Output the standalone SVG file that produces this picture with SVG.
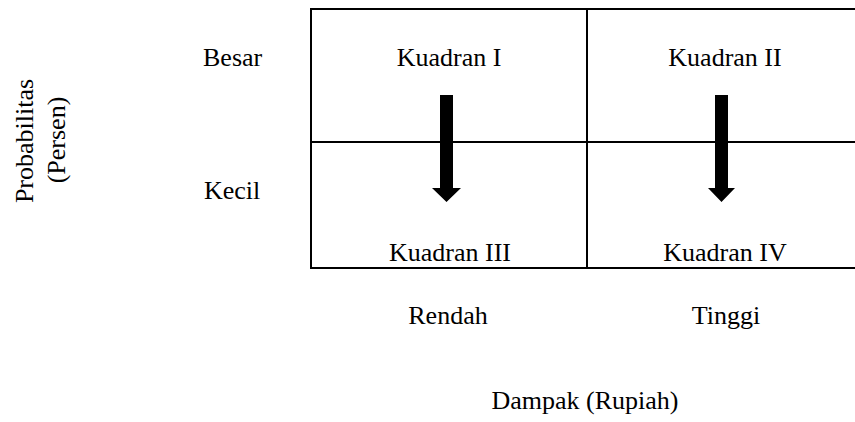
<svg xmlns="http://www.w3.org/2000/svg" width="855" height="422" viewBox="0 0 855 422">
<style>
text{font-family:"Liberation Serif","Times New Roman",serif;font-size:26px;fill:#000}
.c{text-anchor:middle}
.grid{fill:none;stroke:#000;stroke-width:2}
.arrow{fill:#000}
</style>
<rect width="855" height="422" fill="#fff"/>
<g id="grid">
<rect class="grid" x="311" y="9" width="545" height="259"/>
<line class="grid" x1="587" y1="9" x2="587" y2="268"/>
<line class="grid" x1="311" y1="142" x2="856" y2="142"/>
</g>
<g id="q1"><text class="c" x="449" y="66">Kuadran I</text></g>
<g id="q2"><text class="c" x="725" y="66">Kuadran II</text></g>
<g id="q3"><text class="c" x="450" y="261">Kuadran III</text></g>
<g id="q4"><text class="c" x="725" y="261">Kuadran IV</text></g>
<g id="connectors">
<polygon class="arrow" points="440,95 453,95 453,188 461,188 446.5,202 432,188 440,188"/>
<polygon class="arrow" points="715,95 728,95 728,188 735,188 721.5,202 708,188 715,188"/>
</g>
<g id="labels">
<text x="203" y="66">Besar</text>
<text x="204" y="199">Kecil</text>
<text class="c" x="448" y="324">Rendah</text>
<text class="c" x="726" y="324">Tinggi</text>
<text class="c" x="585" y="409">Dampak (Rupiah)</text>
<text class="c" transform="translate(33,141) rotate(-90)">Probabilitas</text>
<text class="c" transform="translate(65,140) rotate(-90)">(Persen)</text>
</g>
</svg>
